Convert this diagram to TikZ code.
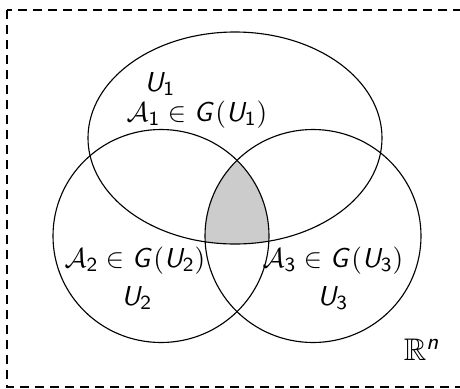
\documentclass[tikz,border=0pt]{standalone}
\usepackage{amssymb}
\DeclareMathAlphabet{\msi}{OT1}{cmss}{m}{sl}
\DeclareMathAlphabet{\msu}{OT1}{cmss}{m}{n}
\newcommand{\setU}[1]{\msi{U}_{\msu{#1}}}
\newcommand{\setA}[1]{\mathcal{A}_{\msu{#1}}}
\newcommand{\grG}{\msi{G}}
\tikzset{
  region/.style={draw=black, line width=0.45pt},
  lbl/.style={inner sep=0pt, font=\fontsize{11.3}{13}\selectfont},
  frame/.style={draw=black, line width=0.45pt, dash pattern=on 3.6pt off 2.4pt}
}
\begin{document}
\begin{tikzpicture}[x=0.4pt,y=-0.4pt]
\useasboundingbox (0,0) rectangle (460,388);
% shaded triple intersection
\begin{scope}
  \clip (235,138) ellipse [x radius=58.8pt, y radius=42.4pt];
  \clip (161,236) ellipse [x radius=43.2pt, y radius=42.6pt];
  \fill[gray!40] (313,236) ellipse [x radius=43.2pt, y radius=42.6pt];
\end{scope}
\draw[region] (235,138) ellipse [x radius=58.8pt, y radius=42.4pt];
\draw[region] (161,236) ellipse [x radius=43.2pt, y radius=42.6pt];
\draw[region] (313,236) ellipse [x radius=43.2pt, y radius=42.6pt];
\draw[frame] (7,10) rectangle (480,387);
\node[lbl] (u1) at (160,84) {$\setU{1}$};
\node[lbl] (a1) at (197,115) {$\setA{1} \in \grG\msu{(}\setU{1}\msu{)}$};
\node[lbl] (a2) at (135,261) {$\setA{2} \in \grG\msu{(}\setU{2}\msu{)}$};
\node[lbl] (u2) at (137,298) {$\setU{2}$};
\node[lbl] (a3) at (333,261) {$\setA{3} \in \grG\msu{(}\setU{3}\msu{)}$};
\node[lbl] (u3) at (333,298) {$\setU{3}$};
\node[lbl, font=\fontsize{12.5}{14}\selectfont] (rn) at (422,350) {$\mathbb{R}^{\msi{n}}$};
\end{tikzpicture}
\end{document}
